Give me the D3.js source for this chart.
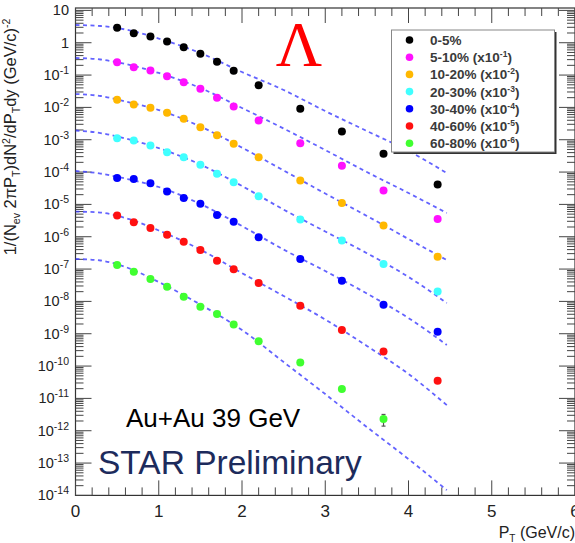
<!DOCTYPE html>
<html>
<head>
<meta charset="utf-8">
<script src="https://cdn.jsdelivr.net/npm/d3@7"></script>
<style>
  body { margin: 0; background: #fff; }
  text { font-family: "Liberation Sans", Arial, Helvetica, sans-serif; }
</style>
</head>
<body>
<div id="chart"></div>
<script>
// Lambda pT spectra, Au+Au 39 GeV, values as plotted (already scaled)
var pT = [0.5, 0.7, 0.9, 1.1, 1.3, 1.5, 1.7, 1.9, 2.2, 2.7, 3.2, 3.7, 4.35];
var fitPT = [0, 0.3, 0.6, 1.0, 1.5, 2.0, 2.5, 3.0, 3.5, 4.0, 4.46];

var centralities = ["0-5%", "5-10%", "10-20%", "20-30%", "30-40%", "40-60%", "60-80%"];
var scaleExp = [0, -1, -2, -3, -4, -5, -6];
var colors = ["#000000", "#ff10ff", "#ffb800", "#40ffff", "#0000ff", "#ff1010", "#40ff30"];

var y0_5   = [2.9, 1.98, 1.57, 1.1, 0.73, 0.46, 0.26, 0.136, 0.048, 0.0091, 0.0018, 3.7e-4, 4.1e-5];
var y5_10  = [0.25, 0.176, 0.139, 0.092, 0.060, 0.0377, 0.0198, 0.0107, 0.0039, 7.8e-4, 1.58e-4, 2.67e-5, 3.56e-6];
var y10_20 = [0.0172, 0.0123, 0.0097, 0.0068, 0.00444, 0.00244, 0.00138, 7.5e-4, 2.87e-4, 5.46e-5, 1.11e-5, 2.21e-6, 2.42e-7];
var y20_30 = [1.11e-3, 9.4e-4, 6.6e-4, 4.1e-4, 2.87e-4, 1.67e-4, 8.8e-5, 4.8e-5, 1.78e-5, 3.39e-6, 7.6e-7, 1.44e-7, 2.04e-8];
var y30_40 = [6.6e-5, 6.15e-5, 4.5e-5, 2.49e-5, 1.59e-5, 1.04e-5, 4.73e-6, 2.93e-6, 9.6e-7, 2.06e-7, 4.38e-8, 7.9e-9, 1.15e-9];
var y40_60 = [4.5e-6, 2.79e-6, 1.87e-6, 1.16e-6, 7.05e-7, 3.9e-7, 1.82e-7, 9.8e-8, 3.74e-8, 7.4e-9, 1.30e-9, 2.83e-10, 3.5e-11];
var y60_80 = [1.34e-7, 8.3e-8, 4.94e-8, 2.85e-8, 1.40e-8, 6.85e-9, 4.07e-9, 1.94e-9, 5.9e-10, 1.29e-10, 1.94e-11, 2.29e-12];
var err60_80 = [0, 0, 0, 0, 0, 0, 0, 0, 0, 0, 0, 0.9e-12];

// fit curves
var fit0_5   = [3.53, 3.29, 2.57, 1.35, 0.48, 0.124, 0.0345, 7.7e-3, 1.86e-3, 4.5e-4, 9.3e-5];
var fit5_10  = [0.337, 0.303, 0.220, 0.116, 0.0398, 9.6e-3, 2.22e-3, 4.8e-4, 1.0e-4, 2.25e-5, 5.4e-6];
var fit10_20 = [0.0259, 0.0225, 0.0152, 8.3e-3, 2.56e-3, 5.7e-4, 1.12e-4, 2.17e-5, 4.4e-6, 8.5e-7, 1.9e-7];
var fit20_30 = [1.93e-3, 1.61e-3, 1.09e-3, 5.5e-4, 1.71e-4, 3.7e-5, 6.9e-6, 1.45e-6, 3.1e-7, 5.7e-8, 8.9e-9];
var fit30_40 = [1.08e-4, 9.0e-5, 6.3e-5, 3.45e-5, 1.03e-5, 2.14e-6, 4.0e-7, 8.7e-8, 1.75e-8, 3.06e-9, 4.5e-10];
var fit40_60 = [6.0e-6, 5.6e-6, 3.8e-6, 1.56e-6, 4.0e-7, 7.5e-8, 1.47e-8, 2.75e-9, 4.2e-10, 5.7e-11, 6.2e-12];
var fit60_80 = [2.05e-7, 1.84e-7, 1.16e-7, 3.97e-8, 8.0e-9, 1.30e-9, 1.33e-10, 1.36e-11, 1.30e-12, 1.33e-13, 1.46e-14];

var xTickLabels = [0, 1, 2, 3, 4, 5, 6];
var yDecades = [1, 0, -1, -2, -3, -4, -5, -6, -7, -8, -9, -10, -11, -12, -13, -14];

var yields = [y0_5, y5_10, y10_20, y20_30, y30_40, y40_60, y60_80];
var fits = [fit0_5, fit5_10, fit10_20, fit20_30, fit30_40, fit40_60, fit60_80];

var W = 575, H = 543;
var svg = d3.select("#chart").append("svg")
    .attr("width", W)
    .attr("height", H);

var frameL = 75.5, frameR = 575, frameT = 8, frameB = 495.4;

var x = d3.scaleLinear().domain([0, 6]).range([frameL, frameR]);
var y = d3.scaleLog().domain([1e-14, Math.pow(10, 1.0742)]).range([frameB, frameT]);

svg.append("clipPath").attr("id", "plotclip")
  .append("rect")
    .attr("x", frameL).attr("y", frameT)
    .attr("width", frameR - frameL).attr("height", frameB - frameT);

// frame
svg.append("rect")
    .attr("x", frameL).attr("y", frameT)
    .attr("width", frameR - frameL).attr("height", frameB - frameT)
    .attr("fill", "none")
    .attr("stroke", "#333")
    .attr("stroke-width", 1.2);

// x ticks (bottom + top, pointing inside)
var xMinor = d3.range(0, 6.01, 0.2).filter(function(v) { return Math.abs(v - Math.round(v)) > 0.01; });
function xTicks(pos, dir) {
    var g = svg.append("g").attr("stroke", "#444").attr("stroke-width", 1);
    g.selectAll(".maj").data(xTickLabels).enter().append("line")
        .attr("x1", function(d) { return x(d); }).attr("x2", function(d) { return x(d); })
        .attr("y1", pos).attr("y2", pos + dir * 15);
    g.selectAll(".min").data(xMinor).enter().append("line")
        .attr("x1", function(d) { return x(d); }).attr("x2", function(d) { return x(d); })
        .attr("y1", pos).attr("y2", pos + dir * 8);
}
xTicks(frameB, -1);
xTicks(frameT, 1);

svg.selectAll(".xlab").data(xTickLabels).enter().append("text")
    .attr("x", function(d) { return x(d); })
    .attr("y", 517)
    .attr("text-anchor", "middle")
    .attr("font-size", 17)
    .attr("fill", "#222")
    .text(function(d) { return d; });

// y ticks (left + right)
var yMinor = [];
yDecades.forEach(function(e) {
    for (var m = 2; m <= 9; m++) {
        var v = m * Math.pow(10, e);
        if (v < y.domain()[1]) yMinor.push(v);
    }
});
function yTicks(pos, dir) {
    var g = svg.append("g").attr("stroke", "#444").attr("stroke-width", 1);
    g.selectAll(".maj").data(yDecades).enter().append("line")
        .attr("x1", pos).attr("x2", pos + dir * 16)
        .attr("y1", function(d) { return y(Math.pow(10, d)); })
        .attr("y2", function(d) { return y(Math.pow(10, d)); });
    g.selectAll(".min").data(yMinor).enter().append("line")
        .attr("x1", pos).attr("x2", pos + dir * 8)
        .attr("y1", function(d) { return y(d); })
        .attr("y2", function(d) { return y(d); });
}
yTicks(frameL, 1);
yTicks(frameR, -1);

yDecades.forEach(function(e) {
    var t = svg.append("text")
        .attr("x", 69)
        .attr("y", y(Math.pow(10, e)) + 5)
        .attr("text-anchor", "end")
        .attr("font-size", 14.5)
        .attr("fill", "#222");
    if (e === 0) t.text("1");
    else if (e === 1) t.text("10");
    else {
        t.append("tspan").text("10");
        t.append("tspan").attr("dy", -6).attr("font-size", 10.5).text(e);
    }
});

// axis titles
var yt = svg.append("text")
    .attr("transform", "translate(16,137) rotate(-90)")
    .attr("text-anchor", "middle")
    .attr("font-size", 16.5)
    .attr("fill", "#222");
yt.append("tspan").text("1/(N");
yt.append("tspan").attr("dy", 4).attr("font-size", 10.5).text("ev");
yt.append("tspan").attr("dy", -4).text(" 2\u03c0P");
yt.append("tspan").attr("dy", 4).attr("font-size", 10.5).text("T");
yt.append("tspan").attr("dy", -4).text(")dN");
yt.append("tspan").attr("dy", -6).attr("font-size", 10.5).text("2");
yt.append("tspan").attr("dy", 6).text("/dP");
yt.append("tspan").attr("dy", 4).attr("font-size", 10.5).text("T");
yt.append("tspan").attr("dy", -4).text("dy (GeV/c)");
yt.append("tspan").attr("dy", -6).attr("font-size", 10.5).text("-2");

var xt = svg.append("text")
    .attr("x", 575).attr("y", 538)
    .attr("text-anchor", "end")
    .attr("font-size", 16)
    .attr("fill", "#222");
xt.append("tspan").text("P");
xt.append("tspan").attr("dy", 4).attr("font-size", 10).text("T");
xt.append("tspan").attr("dy", -4).text(" (GeV/c)");

// fit curves
var line = d3.line()
    .x(function(d) { return x(d[0]); })
    .y(function(d) { return y(d[1]); })
    .curve(d3.curveMonotoneX);

var curveG = svg.append("g").attr("clip-path", "url(#plotclip)");
fits.forEach(function(f) {
    curveG.append("path")
        .attr("d", line(fitPT.map(function(p, i) { return [p, f[i]]; })))
        .attr("fill", "none")
        .attr("stroke", "#3c3cff")
        .attr("stroke-opacity", 0.8)
        .attr("stroke-width", 1.8)
        .attr("stroke-dasharray", "4,3.5");
});

// error bar on last peripheral point
var eg = svg.append("g").attr("stroke", "#555").attr("stroke-width", 1.2);
y60_80.forEach(function(v, i) {
    if (err60_80[i] > 0) {
        eg.append("line")
            .attr("x1", x(pT[i])).attr("x2", x(pT[i]))
            .attr("y1", y(v + err60_80[i])).attr("y2", y(v - err60_80[i]));
        [v + err60_80[i], v - err60_80[i]].forEach(function(e) {
            eg.append("line")
                .attr("x1", x(pT[i]) - 2).attr("x2", x(pT[i]) + 2)
                .attr("y1", y(e)).attr("y2", y(e));
        });
    }
});

// data points
yields.forEach(function(ys, s) {
    svg.append("g").selectAll("circle").data(ys).enter().append("circle")
        .attr("cx", function(d, i) { return x(pT[i]); })
        .attr("cy", function(d) { return y(d); })
        .attr("r", 4)
        .attr("fill", colors[s]);
});

// legend
var lx = 391.5, ly = 30, lw = 163, lh = 122;
svg.append("rect")
    .attr("x", lx + 2).attr("y", ly + 2)
    .attr("width", lw).attr("height", lh)
    .attr("fill", "#333");
svg.append("rect")
    .attr("x", lx).attr("y", ly)
    .attr("width", lw).attr("height", lh)
    .attr("fill", "#fff")
    .attr("stroke", "#888")
    .attr("stroke-width", 1);

centralities.forEach(function(c, i) {
    var ry = 40 + i * 17.2;
    svg.append("circle")
        .attr("cx", 409.5).attr("cy", ry)
        .attr("r", 3.8)
        .attr("fill", colors[i]);
    var t = svg.append("text")
        .attr("x", 430).attr("y", ry + 5)
        .attr("font-size", 13.5)
        .attr("font-weight", "bold")
        .attr("fill", "#3a3a3a");
    t.append("tspan").text(c);
    if (scaleExp[i] !== 0) {
        t.append("tspan").text(" (x10");
        t.append("tspan").attr("dy", -5).attr("font-size", 8.5).text(scaleExp[i]);
        t.append("tspan").attr("dy", 5).text(")");
    }
});

// annotations
svg.append("text")
    .attr("x", 299).attr("y", 66)
    .attr("text-anchor", "middle")
    .style("font-family", "'Liberation Serif', 'Times New Roman', serif")
    .attr("font-size", 64)
    .attr("fill", "#ff0000")
    .text("\u039b");

svg.append("text")
    .attr("x", 126).attr("y", 427)
    .attr("font-size", 26)
    .attr("fill", "#000")
    .text("Au+Au 39 GeV");

svg.append("text")
    .attr("x", 98).attr("y", 474)
    .attr("font-size", 33.5)
    .attr("fill", "#1d2b5c")
    .text("STAR Preliminary");
</script>
</body>
</html>
